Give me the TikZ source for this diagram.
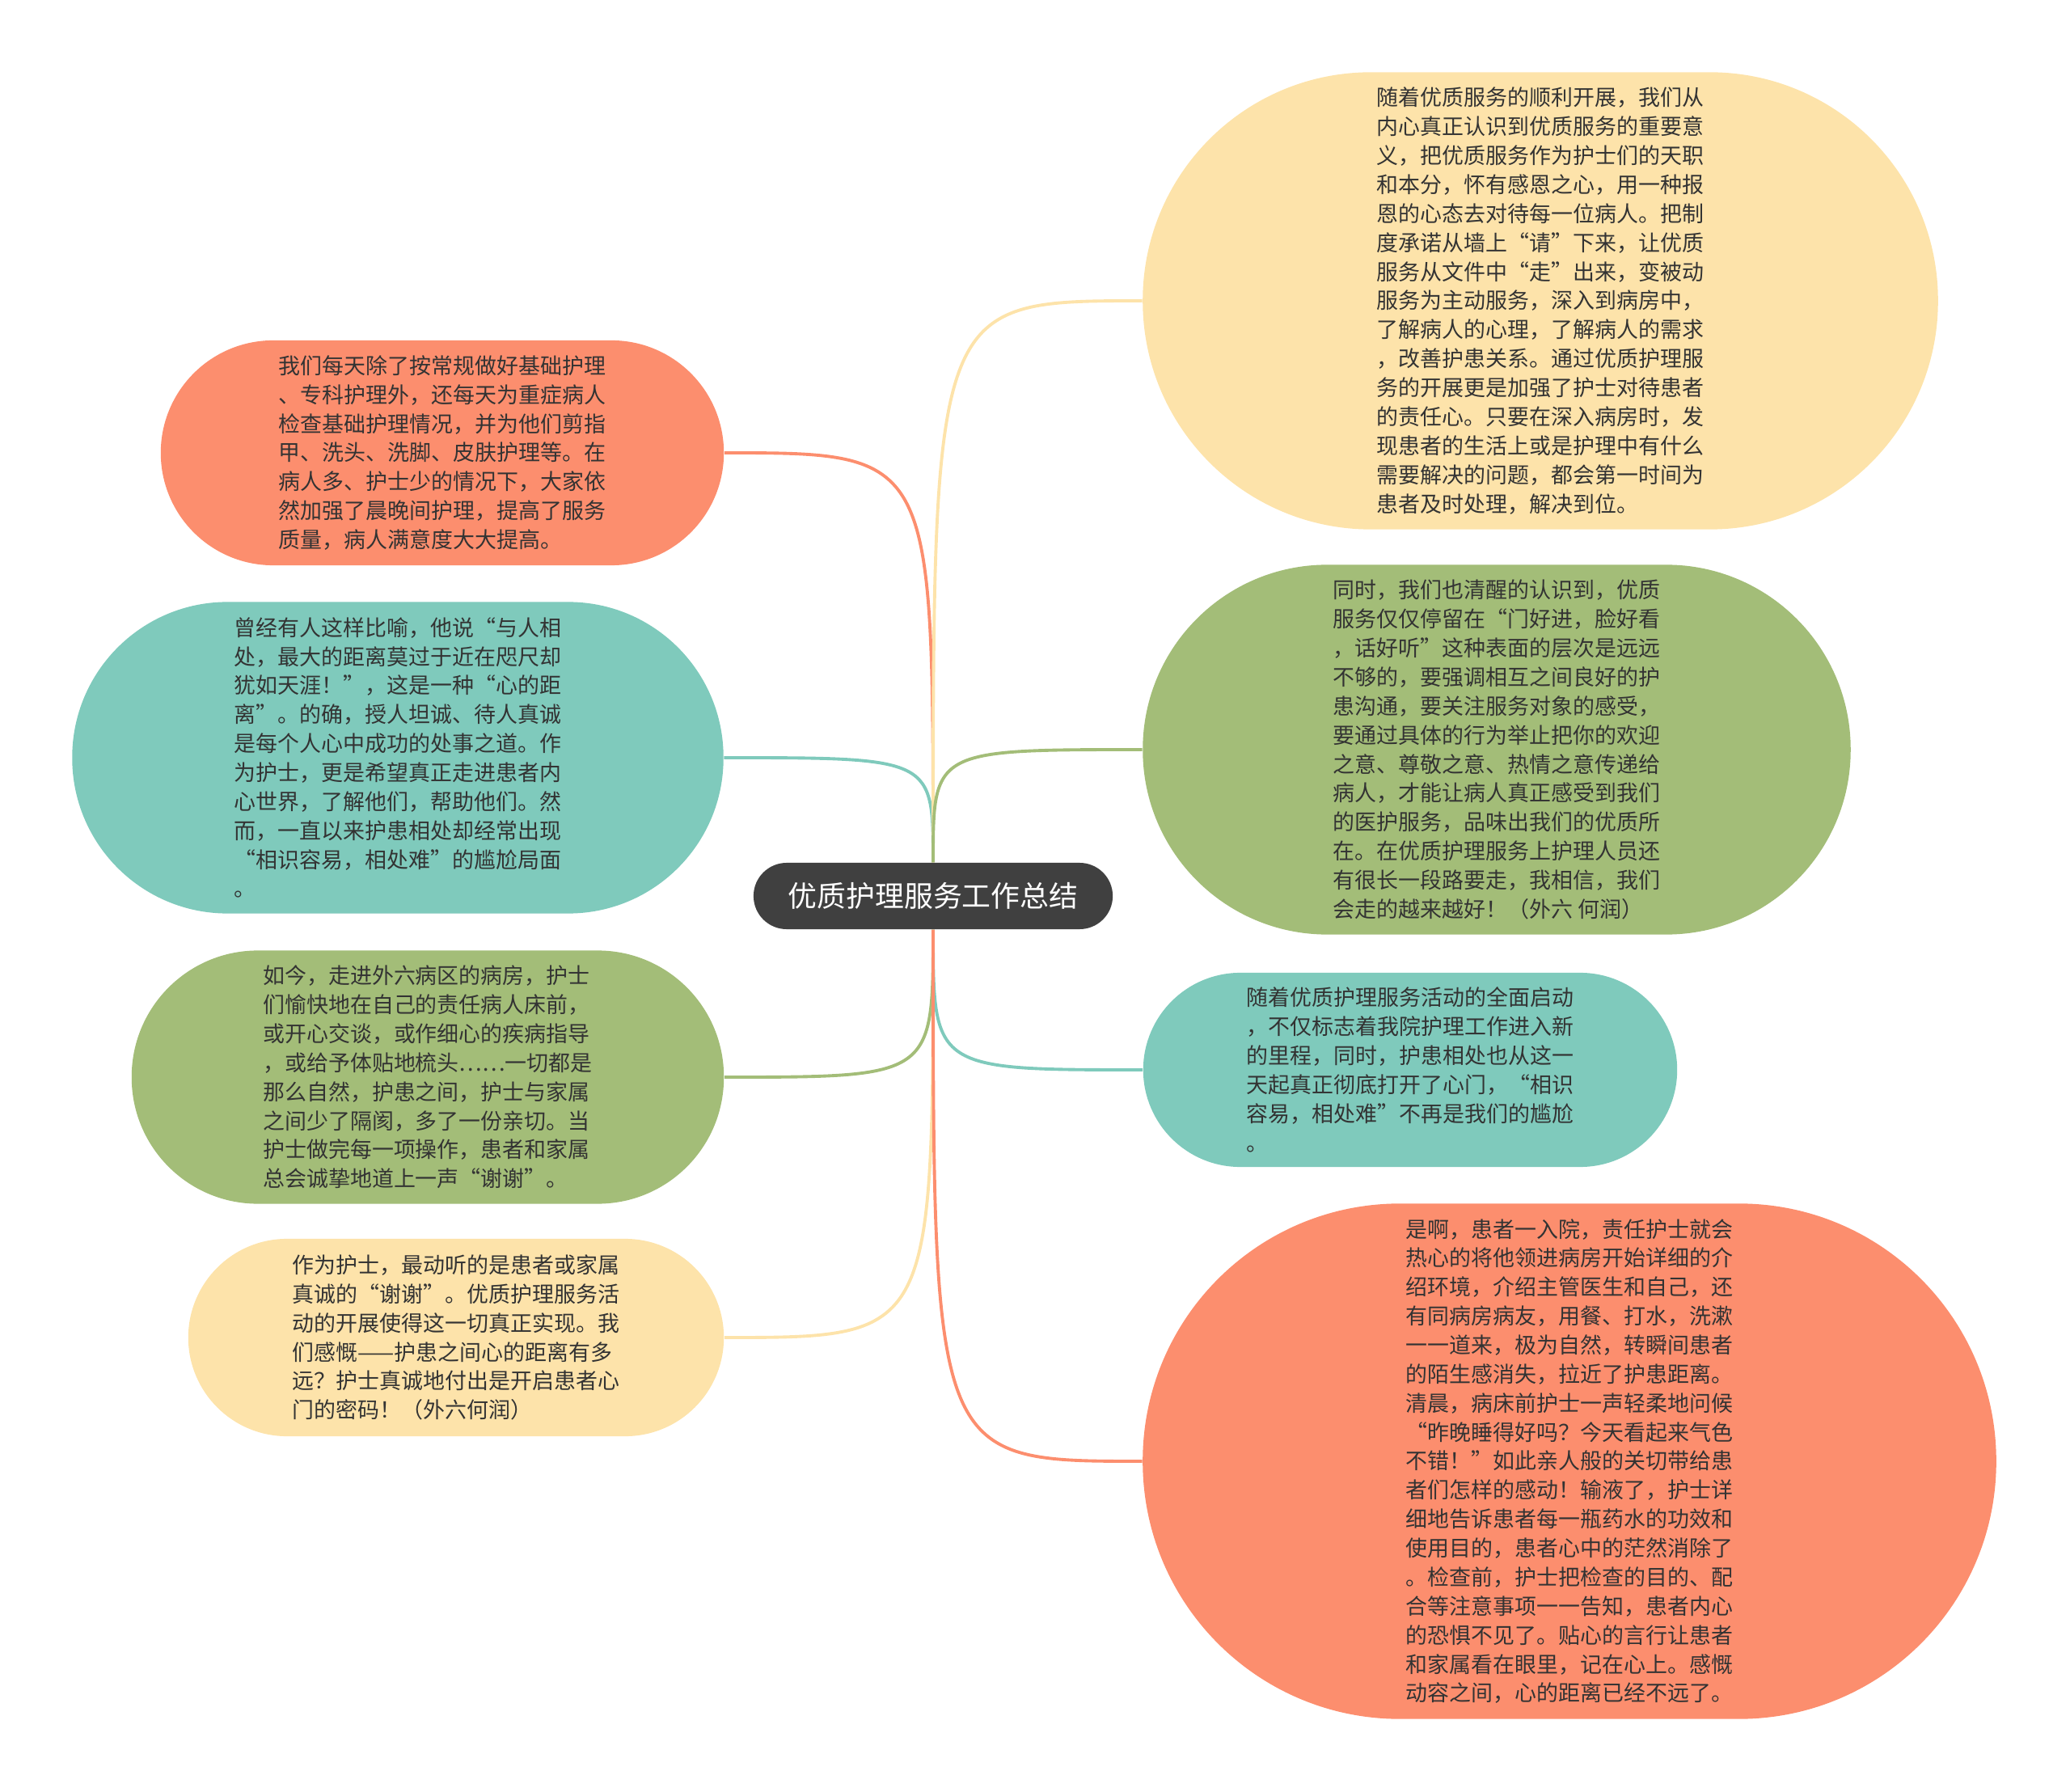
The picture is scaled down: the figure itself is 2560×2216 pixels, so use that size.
\documentclass[tikz,border=0pt]{standalone}
\usepackage{fontspec}
\newfontfamily\cjk{Noto Sans CJK SC}
\definecolor{salmon}{HTML}{FC8E6E}
\definecolor{mint}{HTML}{7FCABC}
\definecolor{olive}{HTML}{A3BD78}
\definecolor{cream}{HTML}{FDE3AA}
\definecolor{rootgray}{HTML}{404040}
\definecolor{inkgray}{HTML}{333333}

\begin{document}
\begin{tikzpicture}[x=0.01cm,y=-0.01cm]
	\tikzset{bubble/.style={text=inkgray, font=\cjk\fontsize{7.66}{10.2}\selectfont, align=left, inner sep=0pt},
		branch/.style={line width=1.1pt}}
	\useasboundingbox (0,0) rectangle (2560,2216);

	\node[fill=rootgray, text=white, font=\cjk\fontsize{10.2}{12}\selectfont, minimum width=4.44cm, minimum height=0.82cm, rounded corners=0.41cm] (root) at (1154,1108) {优质护理服务工作总结};

	\node[bubble, fill=salmon, minimum width=6.96cm, minimum height=2.78cm, rounded corners=1.39cm] (care) at (547,560) {我们每天除了按常规做好基础护理\\、专科护理外，还每天为重症病人\\检查基础护理情况，并为他们剪指\\甲、洗头、洗脚、皮肤护理等。在\\病人多、护士少的情况下，大家依\\然加强了晨晚间护理，提高了服务\\质量，病人满意度大大提高。};
	\node[bubble, fill=mint, minimum width=8.05cm, minimum height=3.85cm, rounded corners=1.92cm] (distance) at (492,937) {曾经有人这样比喻，他说“与人相\\处，最大的距离莫过于近在咫尺却\\犹如天涯！”，这是一种“心的距\\离”。的确，授人坦诚、待人真诚\\是每个人心中成功的处事之道。作\\为护士，更是希望真正走进患者内\\心世界，了解他们，帮助他们。然\\而，一直以来护患相处却经常出现\\“相识容易，相处难”的尴尬局面\\。};
	\node[bubble, fill=olive, minimum width=7.32cm, minimum height=3.13cm, rounded corners=1.56cm] (ward) at (529,1332) {如今，走进外六病区的病房，护士\\们愉快地在自己的责任病人床前，\\或开心交谈，或作细心的疾病指导\\，或给予体贴地梳头……一切都是\\那么自然，护患之间，护士与家属\\之间少了隔阂，多了一份亲切。当\\护士做完每一项操作，患者和家属\\总会诚挚地道上一声“谢谢”。};
	\node[bubble, fill=cream, minimum width=6.62cm, minimum height=2.44cm, rounded corners=1.22cm] (thanks) at (564,1654) {作为护士，最动听的是患者或家属\\真诚的“谢谢”。优质护理服务活\\动的开展使得这一切真正实现。我\\们感慨——护患之间心的距离有多\\远？护士真诚地付出是开启患者心\\门的密码！（外六何润）};

	\node[bubble, fill=cream, minimum width=9.83cm, minimum height=5.65cm, rounded corners=2.82cm] (duty) at (1905,372) {随着优质服务的顺利开展，我们从\\内心真正认识到优质服务的重要意\\义，把优质服务作为护士们的天职\\和本分，怀有感恩之心，用一种报\\恩的心态去对待每一位病人。把制\\度承诺从墙上“请”下来，让优质\\服务从文件中“走”出来，变被动\\服务为主动服务，深入到病房中，\\了解病人的心理，了解病人的需求\\，改善护患关系。通过优质护理服\\务的开展更是加强了护士对待患者\\的责任心。只要在深入病房时，发\\现患者的生活上或是护理中有什么\\需要解决的问题，都会第一时间为\\患者及时处理，解决到位。};
	\node[bubble, fill=olive, minimum width=8.75cm, minimum height=4.57cm, rounded corners=2.28cm] (road) at (1851,927) {同时，我们也清醒的认识到，优质\\服务仅仅停留在“门好进，脸好看\\，话好听”这种表面的层次是远远\\不够的，要强调相互之间良好的护\\患沟通，要关注服务对象的感受，\\要通过具体的行为举止把你的欢迎\\之意、尊敬之意、热情之意传递给\\病人，才能让病人真正感受到我们\\的医护服务，品味出我们的优质所\\在。在优质护理服务上护理人员还\\有很长一段路要走，我相信，我们\\会走的越来越好！（外六 何润）};
	\node[bubble, fill=mint, minimum width=6.60cm, minimum height=2.40cm, rounded corners=1.20cm] (start) at (1744,1323) {随着优质护理服务活动的全面启动\\，不仅标志着我院护理工作进入新\\的里程，同时，护患相处也从这一\\天起真正彻底打开了心门，“相识\\容易，相处难”不再是我们的尴尬\\。};
	\node[bubble, fill=salmon, minimum width=10.55cm, minimum height=6.37cm, rounded corners=3.18cm] (admit) at (1941,1807) {是啊，患者一入院，责任护士就会\\热心的将他领进病房开始详细的介\\绍环境，介绍主管医生和自己，还\\有同病房病友，用餐、打水，洗漱\\一一道来，极为自然，转瞬间患者\\的陌生感消失，拉近了护患距离。\\清晨，病床前护士一声轻柔地问候\\“昨晚睡得好吗？今天看起来气色\\不错！”如此亲人般的关切带给患\\者们怎样的感动！输液了，护士详\\细地告诉患者每一瓶药水的功效和\\使用目的，患者心中的茫然消除了\\。检查前，护士把检查的目的、配\\合等注意事项一一告知，患者内心\\的恐惧不见了。贴心的言行让患者\\和家属看在眼里，记在心上。感慨\\动容之间，心的距离已经不远了。};

	\draw[branch, salmon] (root.north) .. controls (root.north |- care.east) .. (care.east);
	\draw[branch, mint] (root.north) .. controls (root.north |- distance.east) .. (distance.east);
	\draw[branch, olive] (root.south) .. controls (root.south |- ward.east) .. (ward.east);
	\draw[branch, cream] (root.south) .. controls (root.south |- thanks.east) .. (thanks.east);
	\draw[branch, cream] (root.north) .. controls (root.north |- duty.west) .. (duty.west);
	\draw[branch, olive] (root.north) .. controls (root.north |- road.west) .. (road.west);
	\draw[branch, mint] (root.south) .. controls (root.south |- start.west) .. (start.west);
	\draw[branch, salmon] (root.south) .. controls (root.south |- admit.west) .. (admit.west);
\end{tikzpicture}
\end{document}
